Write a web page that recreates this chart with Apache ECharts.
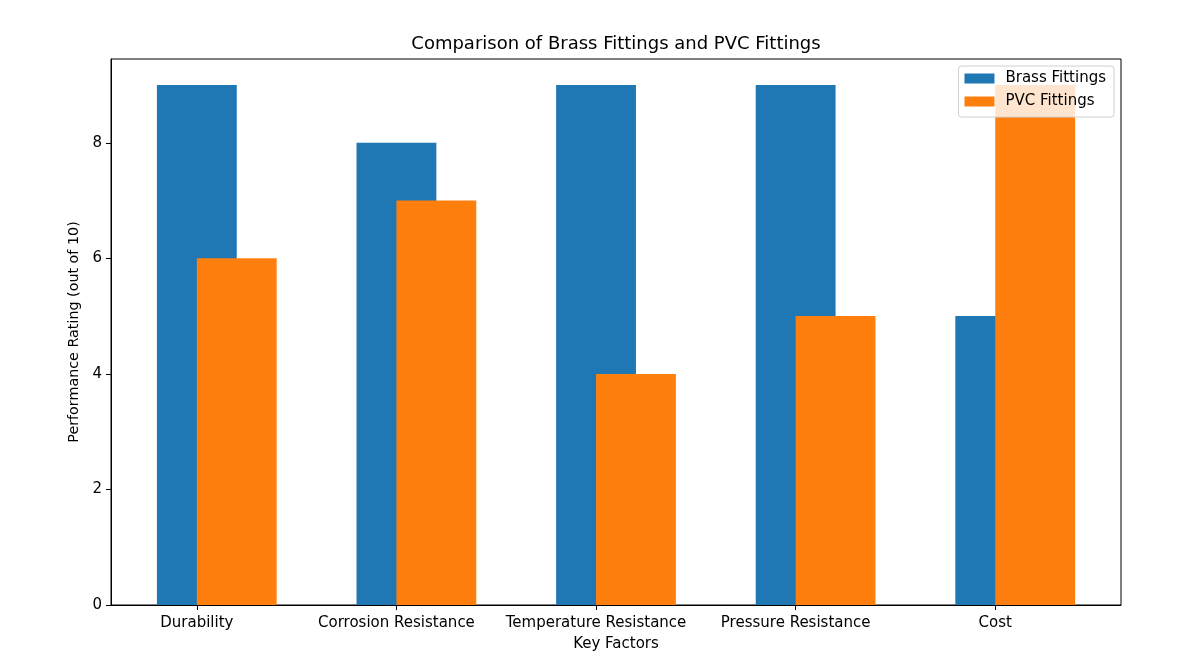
<!DOCTYPE html>
<html>
<head>
<meta charset="utf-8">
<script src="https://cdn.jsdelivr.net/npm/echarts@6/dist/echarts.min.js"></script>
<style>html,body{margin:0;padding:0;background:#fff}#c{width:1203px;height:658px}</style>
</head>
<body>
<div id="c"></div>
<script>
var categories = ['Durability', 'Corrosion Resistance', 'Temperature Resistance', 'Pressure Resistance', 'Cost'];
var brassValues = [9, 8, 9, 9, 5];
var pvcValues = [6, 7, 4, 5, 9];
var yTicks = [0, 2, 4, 6, 8];
var xTicks = [0, 1, 2, 3, 4];

var FONT = 'DejaVu Sans';
var BAR_W = 0.4;

function makeRender(color) {
  return function (params, api) {
    var x = api.value(0), y = api.value(1);
    var p0 = api.coord([x - BAR_W / 2, y]);
    var p1 = api.coord([x + BAR_W / 2, 0]);
    return {
      type: 'rect',
      shape: { x: p0[0], y: p0[1], width: p1[0] - p0[0], height: p1[1] - p0[1] },
      style: { fill: color }
    };
  };
}

var chart = echarts.init(document.getElementById('c'), null, { renderer: 'canvas' });
chart.setOption({
  animation: false,
  backgroundColor: '#fff',
  textStyle: { fontFamily: FONT },
  title: {
    text: 'Comparison of Brass Fittings and PVC Fittings',
    left: 611, top: 30, textAlign: 'center',
    textStyle: { fontFamily: FONT, fontSize: 18, fontWeight: 'normal', color: '#000' }
  },
  legend: {
    orient: 'vertical', right: 89, top: 66,
    padding: [5, 8, 8, 6],
    itemGap: 8,
    itemWidth: 30, itemHeight: 10,
    icon: 'rect',
    backgroundColor: 'rgba(255,255,255,0.8)',
    borderColor: '#d0d0d0', borderWidth: 1, borderRadius: 3,
    textStyle: { fontFamily: FONT, fontSize: 15, color: '#000', padding: [0, 0, 0, 6] },
    data: ['Brass Fittings', 'PVC Fittings']
  },
  grid: { left: 111, right: 82, top: 59, bottom: 53, show: true, borderColor: '#000', borderWidth: 1, backgroundColor: 'transparent' },
  xAxis: {
    type: 'value', min: -0.43, max: 4.63,
    name: 'Key Factors', nameLocation: 'middle', nameGap: 31.5,
    nameTextStyle: { fontFamily: FONT, fontSize: 15, color: '#000' },
    axisLine: { show: true, onZero: false, lineStyle: { color: '#000', width: 1 } },
    axisTick: { show: true, length: 5, lineStyle: { color: '#000' }, customValues: xTicks },
    axisLabel: { customValues: xTicks, margin: 10.5, fontFamily: FONT, fontSize: 15, color: '#000',
      formatter: function (v) { return categories[Math.round(v)] || ''; } },
    splitLine: { show: false }
  },
  yAxis: {
    type: 'value', min: 0, max: 9.45,
    name: 'Performance Rating (out of 10)', nameLocation: 'middle', nameGap: 22,
    nameTextStyle: { fontFamily: FONT, fontSize: 14.3, color: '#000' },
    axisLine: { show: true, onZero: false, lineStyle: { color: '#000', width: 1 } },
    axisTick: { show: true, length: 5, lineStyle: { color: '#000' }, customValues: yTicks },
    axisLabel: { customValues: yTicks, margin: 9, fontFamily: FONT, fontSize: 15, color: '#000' },
    splitLine: { show: false }
  },
  series: [
    {
      name: 'Brass Fittings', type: 'custom',
      itemStyle: { color: '#1f77b4' },
      renderItem: makeRender('#1f77b4'),
      encode: { x: 0, y: 1 },
      data: brassValues.map(function (v, i) { return [i, v]; })
    },
    {
      name: 'PVC Fittings', type: 'custom',
      itemStyle: { color: '#ff7f0e' },
      renderItem: makeRender('#ff7f0e'),
      encode: { x: 0, y: 1 },
      data: pvcValues.map(function (v, i) { return [i + 0.2, v]; })
    }
  ]
});
</script>
</body>
</html>
